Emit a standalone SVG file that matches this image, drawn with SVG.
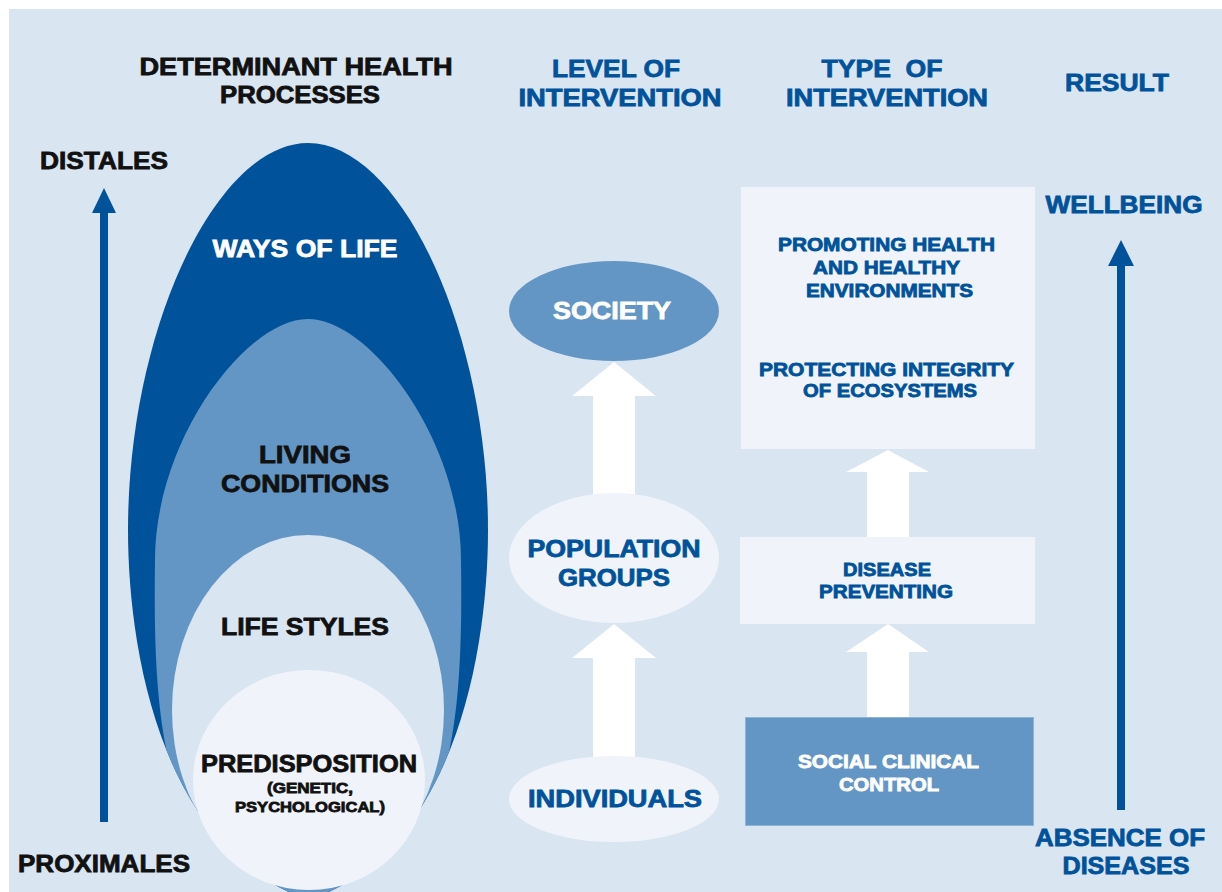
<svg xmlns="http://www.w3.org/2000/svg" width="1222" height="892" viewBox="0 0 1222 892">
<defs>
<style>
text{font-family:"Liberation Sans",Arial,sans-serif;font-weight:bold;text-anchor:middle;}
.h{font-size:24px;}
.m{font-size:18.5px;}
.s{font-size:15px;}
.blk{fill:#111111;stroke:#111111;stroke-width:0.8;}
.blu{fill:#00529B;stroke:#00529B;stroke-width:0.8;}
.wht{fill:#FFFFFF;stroke:#FFFFFF;stroke-width:0.8;}
.dark{fill:#00529B;}
.mid{fill:#6396C4;}
.pale{fill:#D9E5F1;}
.light{fill:#F0F4FA;}
.warrow{fill:#FFFFFF;}
.axis{fill:#00529B;}
</style>
<clipPath id="outerClip">
<path d="M308,143 C400,143 488,330 488,530 C488,650 455,850 309,900 C161,850 128,650 128,530 C128,330 216,143 308,143 Z"/>
</clipPath>
</defs>
<rect x="0" y="0" width="1222" height="892" fill="#FFFFFF"/>
<rect x="9" y="9" width="1213" height="883" class="pale"/>

<g id="headers">
<text class="h blk" x="296" y="75" textLength="313" lengthAdjust="spacingAndGlyphs">DETERMINANT HEALTH</text>
<text class="h blk" x="300" y="103" textLength="160" lengthAdjust="spacingAndGlyphs">PROCESSES</text>
<text class="h blu" x="616" y="76.5" textLength="128" lengthAdjust="spacingAndGlyphs">LEVEL OF</text>
<text class="h blu" x="620" y="105.5" textLength="203" lengthAdjust="spacingAndGlyphs">INTERVENTION</text>
<text class="h blu" x="882" y="76.5" textLength="121" lengthAdjust="spacingAndGlyphs" xml:space="preserve">TYPE  OF</text>
<text class="h blu" x="887" y="105.5" textLength="202" lengthAdjust="spacingAndGlyphs">INTERVENTION</text>
<text class="h blu" x="1117" y="90.5" textLength="104" lengthAdjust="spacingAndGlyphs">RESULT</text>
</g>

<g id="connectors">
<polygon class="axis" points="104,188 116,213 108,213 108,822 100,822 100,213 92,213"/>
<polygon class="axis" points="1121,240 1134,266 1125,266 1125,810 1117,810 1117,266 1108,266"/>
<polygon class="warrow" points="614,362 656,396 635,396 635,495 593,495 593,396 572,396"/>
<polygon class="warrow" points="614,624 656,658 635,658 635,757 593,757 593,658 572,658"/>
<polygon class="warrow" points="888,450 929,472 909,472 909,538 867,538 867,472 846,472"/>
<polygon class="warrow" points="888,624 929,652 909,652 909,718 867,718 867,652 846,652"/>
</g>

<g id="axis-labels">
<text class="h blk" x="104" y="169" textLength="128" lengthAdjust="spacingAndGlyphs">DISTALES</text>
<text class="h blk" x="104" y="872" textLength="172" lengthAdjust="spacingAndGlyphs">PROXIMALES</text>
<text class="h blu" x="1124" y="213" textLength="157" lengthAdjust="spacingAndGlyphs">WELLBEING</text>
<text class="h blu" x="1120" y="846" textLength="170" lengthAdjust="spacingAndGlyphs">ABSENCE OF</text>
<text class="h blu" x="1126" y="874" textLength="127" lengthAdjust="spacingAndGlyphs">DISEASES</text>
</g>

<g id="ways-of-life">
<path class="dark" d="M308,143 C400,143 488,330 488,530 C488,650 455,850 309,900 C161,850 128,650 128,530 C128,330 216,143 308,143 Z"/>
<text class="h wht" x="305" y="257" textLength="185" lengthAdjust="spacingAndGlyphs">WAYS OF LIFE</text>
</g>

<g id="living-conditions" clip-path="url(#outerClip)">
<path class="mid" d="M308,319 C370,319 461,440 461,560 C463,700 455,790 400,870 L308,900 L216,870 C161,790 153,700 155,560 C155,440 246,319 308,319 Z"/>
</g>
<g id="living-conditions-label">
<text class="h blk" x="305" y="463" textLength="92" lengthAdjust="spacingAndGlyphs">LIVING</text>
<text class="h blk" x="305" y="492" textLength="168" lengthAdjust="spacingAndGlyphs">CONDITIONS</text>
</g>

<g id="life-styles" clip-path="url(#outerClip)">
<ellipse class="pale" cx="308" cy="710" rx="136" ry="175"/>
</g>
<g id="life-styles-label">
<text class="h blk" x="305" y="635" textLength="168" lengthAdjust="spacingAndGlyphs">LIFE STYLES</text>
</g>

<g id="predisposition">
<ellipse class="light" cx="309" cy="780" rx="116" ry="110"/>
<text class="h blk" x="309" y="772" textLength="216" lengthAdjust="spacingAndGlyphs">PREDISPOSITION</text>
<text class="s blk" x="310" y="793" textLength="86" lengthAdjust="spacingAndGlyphs">(GENETIC,</text>
<text class="s blk" x="310" y="812" textLength="150" lengthAdjust="spacingAndGlyphs">PSYCHOLOGICAL)</text>
</g>

<g id="society">
<ellipse class="mid" cx="614" cy="311" rx="105" ry="50"/>
<text class="h wht" x="612" y="319" textLength="118" lengthAdjust="spacingAndGlyphs">SOCIETY</text>
</g>

<g id="population-groups">
<ellipse class="light" cx="614" cy="558" rx="105" ry="65"/>
<text class="h blu" x="614" y="557" textLength="173" lengthAdjust="spacingAndGlyphs">POPULATION</text>
<text class="h blu" x="614" y="586" textLength="112" lengthAdjust="spacingAndGlyphs">GROUPS</text>
</g>

<g id="individuals">
<ellipse class="light" cx="614" cy="799" rx="105" ry="43"/>
<text class="h blu" x="615" y="807" textLength="174" lengthAdjust="spacingAndGlyphs">INDIVIDUALS</text>
</g>

<g id="promoting-health">
<rect class="light" x="741" y="187" width="294" height="262"/>
<text class="m blu" x="886.5" y="251" textLength="217" lengthAdjust="spacingAndGlyphs">PROMOTING HEALTH</text>
<text class="m blu" x="886.5" y="274" textLength="147" lengthAdjust="spacingAndGlyphs">AND HEALTHY</text>
<text class="m blu" x="889.5" y="297" textLength="167" lengthAdjust="spacingAndGlyphs">ENVIRONMENTS</text>
<text class="m blu" x="886.5" y="376" textLength="255" lengthAdjust="spacingAndGlyphs">PROTECTING INTEGRITY</text>
<text class="m blu" x="890" y="397" textLength="174" lengthAdjust="spacingAndGlyphs">OF ECOSYSTEMS</text>
</g>

<g id="disease-preventing">
<rect class="light" x="740" y="537" width="295" height="87"/>
<text class="m blu" x="887" y="576" textLength="88" lengthAdjust="spacingAndGlyphs">DISEASE</text>
<text class="m blu" x="886" y="598" textLength="134" lengthAdjust="spacingAndGlyphs">PREVENTING</text>
</g>

<g id="social-clinical-control">
<rect class="mid" x="745.5" y="717.5" width="288" height="108" stroke="#8FB3D6" stroke-width="1"/>
<text class="m wht" x="888.5" y="768" textLength="181" lengthAdjust="spacingAndGlyphs">SOCIAL CLINICAL</text>
<text class="m wht" x="889" y="791" textLength="100" lengthAdjust="spacingAndGlyphs">CONTROL</text>
</g>
</svg>
